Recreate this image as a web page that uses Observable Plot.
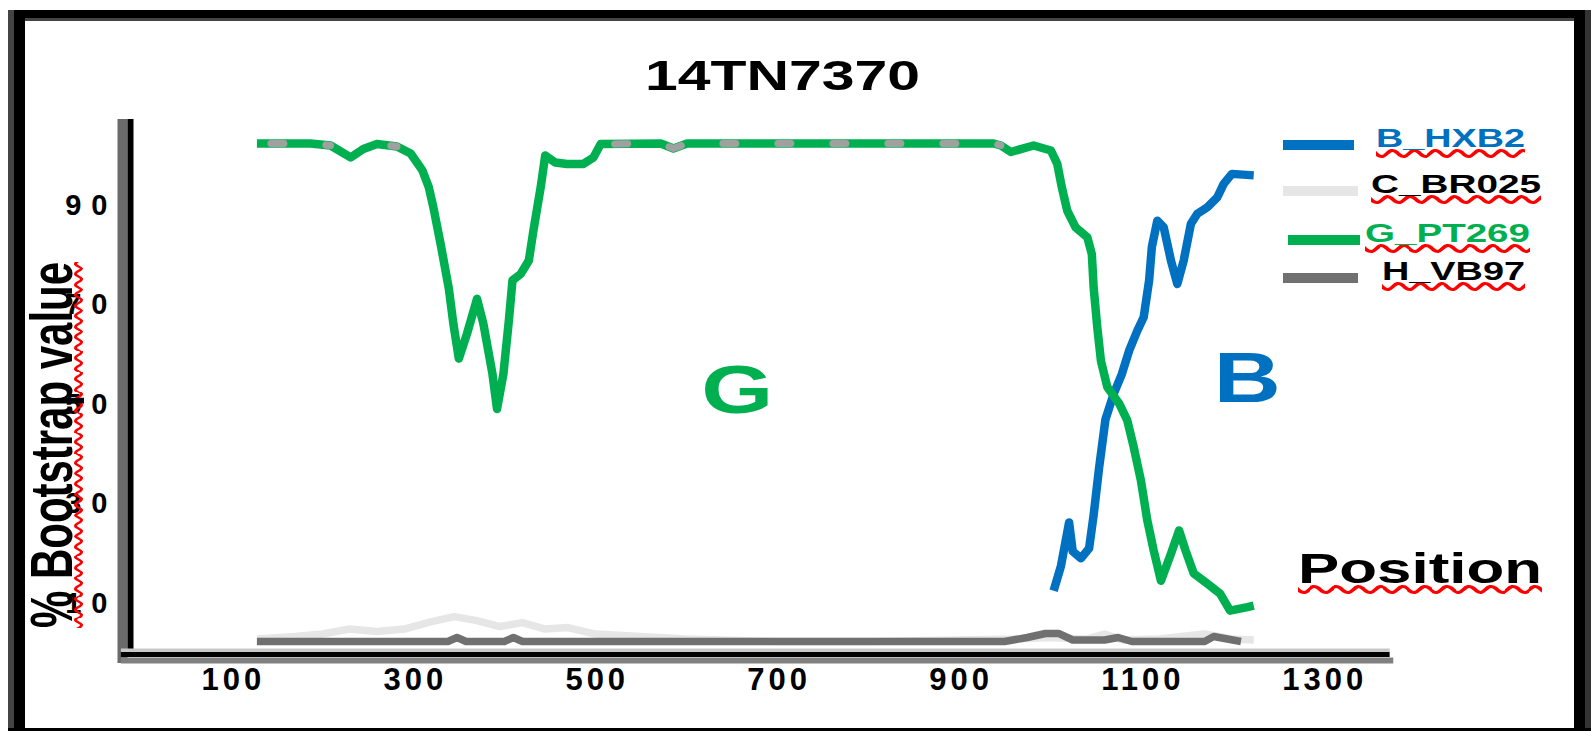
<!DOCTYPE html>
<html><head><meta charset="utf-8">
<script src="https://cdn.jsdelivr.net/npm/d3@7"></script>
<script src="https://cdn.jsdelivr.net/npm/@observablehq/plot@0.6"></script>
<style>
html,body{margin:0;padding:0;background:#fff;}
#stage{position:relative;width:1591px;height:731px;overflow:hidden;background:#fff;}
#stage svg{position:absolute;left:0;top:0;}
.bd{position:absolute;}
#stage svg g[aria-label="x-axis tick label"] text{letter-spacing:4px;}
#stage svg g[aria-label="y-axis tick label"] text{letter-spacing:10px;}
</style></head><body><div id="stage"></div>
<script>
// ---- text ----
const title = "14TN7370";
const yLabel = "% Bootstrap value";
const xLabel = "Position";
const seriesNames = ["B_HXB2", "C_BR025", "G_PT269", "H_VB97"];
const seriesColors = ["#0070C0", "#e6e6e6", "#00B050", "#707070"];
const legendTextColors = ["#0070C0", "#000000", "#00B050", "#000000"];
const xTicks = [100, 300, 500, 700, 900, 1100, 1300];
const yTicks = [10, 30, 50, 70, 90];

// ---- series (position, % bootstrap) ----
const bPos = [1004,1012,1021,1025,1034,1043,1048,1054,1061,1070,1079,1087,1096,1103,1109,1112,1118,1125,1133,1140,1147,1155,1162,1173,1184,1191,1200,1224];
const bVal = [10.2,15.1,23.9,18.1,16.7,18.7,25.4,34.9,44.6,49.7,53.7,58.4,62.4,65.1,72.5,79.2,84.5,83.2,76.5,71.8,76.5,83.9,85.9,87.2,89.2,91.9,93.9,93.6];

const cPos = [128,170,200,230,260,290,320,345,370,395,420,445,470,500,550,600,700,800,900,960,1000,1040,1060,1080,1120,1170,1200,1224];
const cVal = [0.5,1,1.5,2.5,2,2.5,4,5,4.2,3,3.8,2.5,2.8,1.5,1,0.5,0,0,0.3,0.5,0.8,0.5,1.5,0.3,0.5,1.5,0.5,0.3];

const gPos = [128,187,209,231,245,260,282,297,310,317,322,330,339,344,350,359,370,377,387,392,399,405,409,418,427,432,440,445,456,469,487,498,506,572,586,601,938,946,957,982,1001,1008,1013,1019,1028,1041,1046,1048,1052,1056,1063,1076,1085,1092,1100,1107,1114,1122,1133,1142,1149,1158,1173,1187,1198,1217,1224];
const gVal = [100,100,99.6,97.2,98.9,99.9,99.4,98,94.6,91.2,87.2,79.8,70.9,63.8,56.8,61.8,68.8,63.8,53.7,46.7,53.7,64.4,72.5,73.8,76.5,82.5,91.2,97.6,96.2,95.9,95.9,97.2,99.9,100,99,100,100,99.6,98.3,99.6,98.6,95.9,91.2,86.5,83.2,81.2,77.8,71.1,63.1,56.4,51.1,47.8,44.4,39.1,32.3,24.3,18.3,12.2,17.6,22.3,18.3,13.7,11.6,9.6,6.2,6.9,7.2];

const hPos = [128,338,348,358,400,410,420,950,975,995,1010,1025,1060,1075,1090,1170,1180,1195,1210];
const hVal = [0,0,0.8,0,0,0.8,0,0,0.8,1.6,1.6,0.3,0.3,0.8,0,0,1,0.5,0];

// region annotations (position, value at baseline)
const regionText = ["G", "B"];
const regionPos = [656, 1217];
const regionVal = [45.8, 48];
const regionColor = ["#00B050", "#0070C0"];

// ---- build tables ----
const toRows = (pos, val) => pos.map((p, i) => ({pos: p, val: val[i]}));
const series = [toRows(bPos, bVal), toRows(cPos, cVal), toRows(gPos, gVal), toRows(hPos, hVal)];
const drawOrder = [1, 3, 0, 2];

const xDomain = [-11, 1381];
const yDomain = [-2.61, 104.82];
const axisEnd = 1374;

const marks = [
  // axis lines (shaded like the original)
  Plot.ruleX([xDomain[0]], {stroke: "#6b6b6b", strokeWidth: 10, dx: -8, y1: yDomain[1], y2: yDomain[0] - 1.8}),
  Plot.ruleX([xDomain[0]], {stroke: "#000", strokeWidth: 6, y1: yDomain[1], y2: yDomain[0]}),
  Plot.ruleY([yDomain[0]], {stroke: "#c8c8c8", strokeWidth: 4, dy: -4, x1: -21, x2: axisEnd}),
  Plot.ruleY([yDomain[0]], {stroke: "#808080", strokeWidth: 6, dy: 6, x1: -21, x2: axisEnd + 4}),
  Plot.ruleY([yDomain[0]], {stroke: "#000", strokeWidth: 5, x1: -21, x2: axisEnd}),
  Plot.axisX({ticks: xTicks, tickSize: 0, tickPadding: 13, dx: 2, fontSize: 31, fontWeight: "bold", fill: "#000", tickFormat: d => String(d), label: null}),
  Plot.axisY({ticks: yTicks, tickSize: 0, tickPadding: 13, dy: 12, fontSize: 29, fontWeight: "bold", fill: "#000", tickFormat: d => String(d), label: null})
];
for (const i of drawOrder) {
  marks.push(Plot.line(series[i], {x: "pos", y: "val", stroke: seriesColors[i], strokeWidth: i === 1 || i === 3 ? 7.5 : 8.5, strokeLinejoin: "round", strokeLinecap: "butt"}));
}
// grey dashes visible along the flat top of the G curve
marks.push(Plot.line(series[2], {x: "pos", y: d => d.val >= 99 ? d.val : NaN, stroke: "#a0a0a0", strokeWidth: 7, strokeDasharray: "13 42", strokeDashoffset: -14}));
regionText.forEach((t, i) => {
  marks.push(Plot.text([{t, pos: regionPos[i], val: regionVal[i]}], {x: "pos", y: "val", text: "t", fill: regionColor[i], fontSize: i === 0 ? 68 : 70, fontWeight: "bold", lineAnchor: "bottom"}));
});

const svg = Plot.plot({
  width: 1591, height: 731,
  marginLeft: 130, marginRight: 195, marginTop: 119, marginBottom: 77,
  x: {domain: xDomain},
  y: {domain: yDomain},
  style: {background: "transparent", fontFamily: "'Liberation Sans', Arial, sans-serif", overflow: "visible"},
  marks
});
const stage = document.getElementById("stage");
stage.appendChild(svg);

// stretch region letters like the original
const regionWidths = {G: 72, B: 67};
d3.select(svg).selectAll('g[aria-label="text"] text').each(function() {
  const t = this.textContent;
  if (regionWidths[t]) d3.select(this).attr("textLength", regionWidths[t]).attr("lengthAdjust", "spacingAndGlyphs");
});

// ---- frame border ----
function box(l, t, w, h, c) {
  const d = document.createElement("div");
  d.className = "bd";
  Object.assign(d.style, {left: l + "px", top: t + "px", width: w + "px", height: h + "px", background: c});
  stage.appendChild(d);
}
box(8, 10, 6, 721, "#444");
box(14, 10, 11, 721, "#000");
box(14, 10, 1571, 8, "#000");
box(25, 18, 1549, 3, "#444");
box(1574, 10, 11, 721, "#000");
box(1585, 10, 6, 721, "#333");
box(8, 728, 1583, 3, "#000");

// ---- overlay texts ----
function overlay(txt, o) {
  const el = document.createElement("div");
  el.textContent = txt;
  Object.assign(el.style, {
    position: "absolute", whiteSpace: "nowrap", left: "0px", top: "0px",
    font: `bold ${o.fs}px 'Liberation Sans', Arial, sans-serif`, lineHeight: "1",
    color: o.color || "#000", letterSpacing: (o.ls || 0) + "px"
  });
  if (o.squiggle) {
    el.style.textDecorationLine = "underline";
    el.style.textDecorationStyle = "wavy";
    el.style.textDecorationColor = "#ff0000";
    el.style.textDecorationThickness = "2.5px";
    el.style.textUnderlineOffset = "2px";
    el.style.textDecorationSkipInk = "none";
  }
  stage.appendChild(el);
  const w = el.getBoundingClientRect().width;
  const k = o.width / w;
  if (!o.rotate) {
    el.style.left = o.x + "px";
    el.style.top = (o.capTop - 0.13 * o.fs) + "px";
    el.style.transformOrigin = "0 0";
    el.style.transform = `scaleX(${k})`;
  } else {
    el.style.left = (o.cx - w / 2) + "px";
    el.style.top = (o.cy - o.fs / 2) + "px";
    el.style.transformOrigin = "50% 50%";
    el.style.transform = `rotate(-90deg) scaleX(${k})`;
  }
}
overlay(title, {x: 645, capTop: 60, fs: 42, width: 275});
overlay(xLabel, {x: 1298, capTop: 553, fs: 42, width: 244, squiggle: true});
overlay(yLabel, {rotate: true, cx: 52, cy: 445, fs: 60, width: 366, squiggle: true});

// legend
const legendY = [145, 191, 240, 278];
const legendLineX = [[1283, 1354], [1283, 1358], [1288, 1360], [1283, 1358]];
const legendTextX = [1376, 1371, 1365, 1382];
const legendTextW = [149, 170, 165, 143];
seriesNames.forEach((name, i) => {
  box(legendLineX[i][0], legendY[i] - 5, legendLineX[i][1] - legendLineX[i][0], 10, seriesColors[i]);
  overlay(name, {x: legendTextX[i], capTop: legendY[i] - 17, fs: 26, width: legendTextW[i], color: legendTextColors[i], squiggle: true});
});
</script></body></html>
